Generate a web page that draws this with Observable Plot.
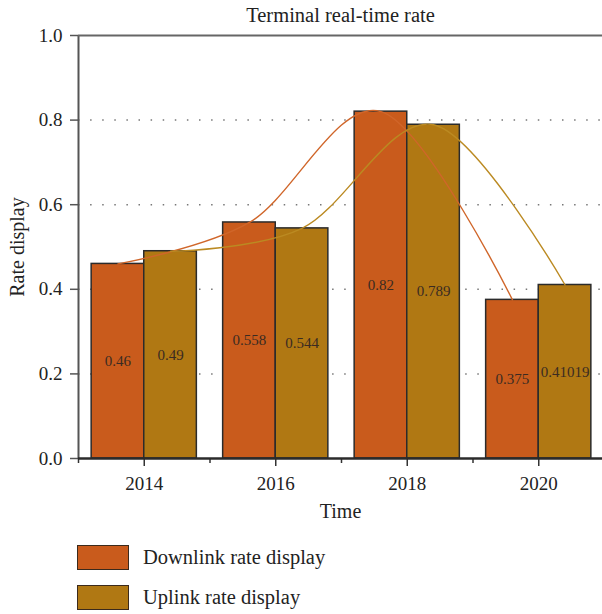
<!DOCTYPE html>
<html>
<head>
<meta charset="utf-8">
<script src="https://cdn.jsdelivr.net/npm/d3@7"></script>
<script src="https://cdn.jsdelivr.net/npm/@observablehq/plot@0.6"></script>
<style>
  html, body { margin: 0; padding: 0; background: #fff; overflow: hidden; }
  #chart { position: relative; width: 602px; height: 614px; font-family: "Liberation Serif", "DejaVu Serif", serif; }
  #chart svg { display: block; }
  .legend-item { position: absolute; left: 77px; display: flex; align-items: center; font-size: 20.5px; color: #222; }
  .swatch { box-sizing: border-box; width: 52px; height: 25px; border: 1.5px solid #3b2a1c; margin-right: 14px; }
</style>
</head>
<body>
<div id="chart"></div>
<script>
// Terminal rates per year
const years = [2014, 2016, 2018, 2020];
const downlink = [0.46, 0.558, 0.82, 0.375];
const uplink = [0.49, 0.544, 0.789, 0.41019];

const seriesNames = ["Downlink rate display", "Uplink rate display"];
const seriesFills = ["#c95b1c", "#b07813"];
const curveColors = ["#d0662a", "#bb8a22"];

const yTicks = [0, 0.2, 0.4, 0.6, 0.8, 1.0];
const gridTicks = [0.2, 0.4, 0.6, 0.8];
const majorYears = [2014, 2016, 2018, 2020];
const minorYears = [2013, 2015, 2017, 2019];

const font = "Liberation Serif, DejaVu Serif, serif";

// Downlink bar sits left of the year, uplink bar right of it
const barWidth = 0.8;
const downRows = years.map((year, i) => ({year, value: downlink[i], x1: year - barWidth, x2: year, mid: year - barWidth / 2}));
const upRows = years.map((year, i) => ({year, value: uplink[i], x1: year, x2: year + barWidth, mid: year + barWidth / 2}));

const plot = Plot.plot({
  width: 602,
  height: 530,
  marginTop: 35,
  marginBottom: 72,
  marginLeft: 78,
  marginRight: 0,
  style: {fontFamily: font, color: "#222", background: "#fff"},
  x: {domain: [2013, 2021], range: [78, 604]},
  y: {domain: [0, 1]},
  marks: [
    Plot.ruleY(gridTicks, {stroke: "#777", strokeWidth: 1.5, strokeDasharray: "1.5 10.6"}),
    Plot.rectY(downRows, {x1: "x1", x2: "x2", y1: 0, y2: "value", fill: seriesFills[0], stroke: "#2b2b2b", strokeWidth: 1.5}),
    Plot.rectY(upRows, {x1: "x1", x2: "x2", y1: 0, y2: "value", fill: seriesFills[1], stroke: "#2b2b2b", strokeWidth: 1.5}),
    Plot.line(downRows, {x: "mid", y: "value", curve: "cardinal", stroke: curveColors[0], strokeWidth: 1.4}),
    Plot.line(upRows, {x: "mid", y: "value", curve: "cardinal", stroke: curveColors[1], strokeWidth: 1.4}),
    Plot.text(downRows, {x: "mid", y: d => d.value / 2, text: d => String(d.value), fontSize: 15, fill: "#3a2b22"}),
    Plot.text(upRows, {x: "mid", y: d => d.value / 2, text: d => String(d.value), fontSize: 15, fill: "#3a2b22"}),
    Plot.axisY({ticks: yTicks, tickFormat: d3.format(".1f"), tickSize: 8, tickPadding: 8, fontSize: 19, label: null, stroke: "#555", strokeWidth: 1.5}),
    Plot.axisX({ticks: majorYears, tickFormat: d => String(d), tickSize: 8, tickPadding: 10, fontSize: 19, label: null, stroke: "#333", strokeWidth: 1.5}),
    Plot.axisX({ticks: minorYears, tickFormat: () => "", tickSize: 5, label: null, stroke: "#333", strokeWidth: 1.5}),
    Plot.ruleX([2013], {stroke: "#555", strokeWidth: 2}),
    Plot.ruleY([1], {stroke: "#666", strokeWidth: 2}),
    Plot.ruleY([0], {stroke: "#2b2b2b", strokeWidth: 2.5}),
    Plot.text(["Terminal real-time rate"], {frameAnchor: "top", lineAnchor: "middle", dy: -20, fontSize: 20.5, fill: "#222"}),
    Plot.text(["Rate display"], {frameAnchor: "left", textAnchor: "middle", lineAnchor: "middle", dx: -61, rotate: -90, fontSize: 20, fill: "#222"}),
    Plot.text(["Time"], {frameAnchor: "bottom", lineAnchor: "middle", dy: 53, fontSize: 20, fill: "#222"})
  ]
});

const chart = document.getElementById("chart");
chart.appendChild(plot);

// Legend beneath the plot
const legendTops = [545, 585];
seriesNames.forEach((name, i) => {
  const item = document.createElement("div");
  item.className = "legend-item";
  item.style.top = legendTops[i] + "px";
  const sw = document.createElement("div");
  sw.className = "swatch";
  sw.style.background = seriesFills[i];
  const label = document.createElement("span");
  label.textContent = name;
  item.appendChild(sw);
  item.appendChild(label);
  chart.appendChild(item);
});
</script>
</body>
</html>
